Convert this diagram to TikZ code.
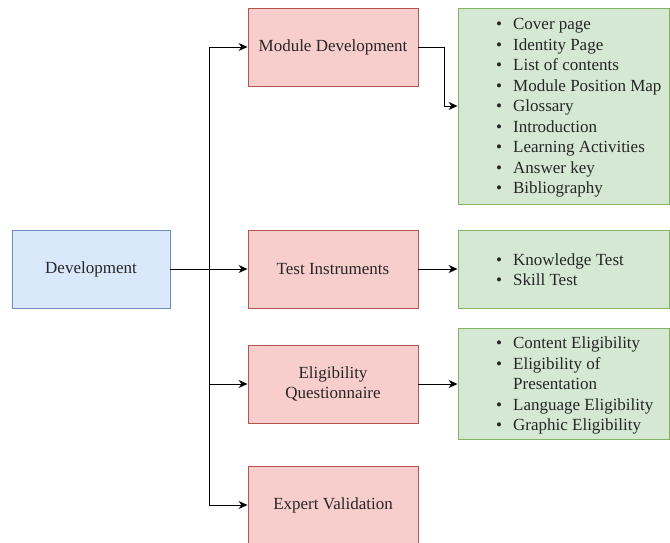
\documentclass[tikz,border=0pt]{standalone}
\usepackage{fontspec}
\setmainfont{Liberation Serif}
\usetikzlibrary{arrows.meta}
\definecolor{pinkfill}{HTML}{F8CECC}
\definecolor{pinkdraw}{HTML}{B85450}
\definecolor{bluefill}{HTML}{DAE8FC}
\definecolor{bluedraw}{HTML}{6C8EBF}
\definecolor{greenfill}{HTML}{D5E8D4}
\definecolor{greendraw}{HTML}{82B366}
\tikzset{
  box/.style={draw, line width=0.9pt, minimum width=170pt, minimum height=78pt, inner sep=2pt, align=center, font=\fontsize{17}{20.5}\selectfont, text=black!85},
  pinkbox/.style={box, fill=pinkfill, draw=pinkdraw},
  bluebox/.style={box, fill=bluefill, draw=bluedraw, minimum width=158pt},
  greenbox/.style={draw=greendraw, fill=greenfill, line width=0.9pt},
  listtext/.style={anchor=west, inner sep=0pt, font=\fontsize{17}{20.5}\selectfont, text=black!85},
  arr/.style={-{Stealth[length=9pt,width=8pt]}, line width=0.9pt, black},
  ln/.style={line width=0.9pt, black}
}
\begin{document}
\begin{tikzpicture}[x=1pt,y=-1pt]
\useasboundingbox (0,0) rectangle (670,543);
\clip (0,0) rectangle (670,543);
% main nodes
\node[bluebox] (dev) at (91,269) {\raisebox{-1.5pt}{Development}};
\node[pinkbox] (md) at (333,47) {\raisebox{-1.5pt}{Module Development}};
\node[pinkbox] (ti) at (333,269) {\raisebox{-1.5pt}{Test Instruments}};
\node[pinkbox] (eq) at (333,384) {Eligibility\\Questionnaire};
\node[pinkbox] (ev) at (333,505) {\raisebox{-1.5pt}{Expert Validation}};
% green boxes
\node[greenbox, minimum width=211pt, minimum height=196pt, inner sep=0pt] (g1) at (563.5,106) {};
\node[greenbox, minimum width=211pt, minimum height=78pt, inner sep=0pt] (g2) at (563.5,269) {};
\node[greenbox, minimum width=211pt, minimum height=111pt, inner sep=0pt] (g3) at (563.5,383.5) {};
% lists
\node[listtext] (l1) at (496,107.5) {\begin{tabular}{@{}l@{\hspace{11pt}}l@{}}
\textbullet & Cover page\\
\textbullet & Identity Page\\
\textbullet & List of contents\\
\textbullet & Module Position Map\\
\textbullet & Glossary\\
\textbullet & Introduction\\
\textbullet & Learning Activities\\
\textbullet & Answer key\\
\textbullet & Bibliography
\end{tabular}};
\node[listtext] (l2) at (496,271.5) {\begin{tabular}{@{}l@{\hspace{11pt}}l@{}}
\textbullet & Knowledge Test\\
\textbullet & Skill Test
\end{tabular}};
\node[listtext] (l3) at (496,385.5) {\begin{tabular}{@{}l@{\hspace{11pt}}l@{}}
\textbullet & Content Eligibility\\
\textbullet & Eligibility of\\
 & Presentation\\
\textbullet & Language Eligibility\\
\textbullet & Graphic Eligibility
\end{tabular}};
% connectors
\coordinate (j) at (209,269);
\draw[arr] (dev.east) -- (ti.west);
\draw[arr] (j) |- (md.west);
\draw[arr] (j) |- (eq.west);
\draw[arr] (j) |- (ev.west);
\draw[arr] (md.east) -- ++(26,0) |- (g1.west);
\draw[arr] (ti.east) -- (ti.east -| g2.west);
\draw[arr] (eq.east) -- (eq.east -| g3.west);
\end{tikzpicture}
\end{document}
